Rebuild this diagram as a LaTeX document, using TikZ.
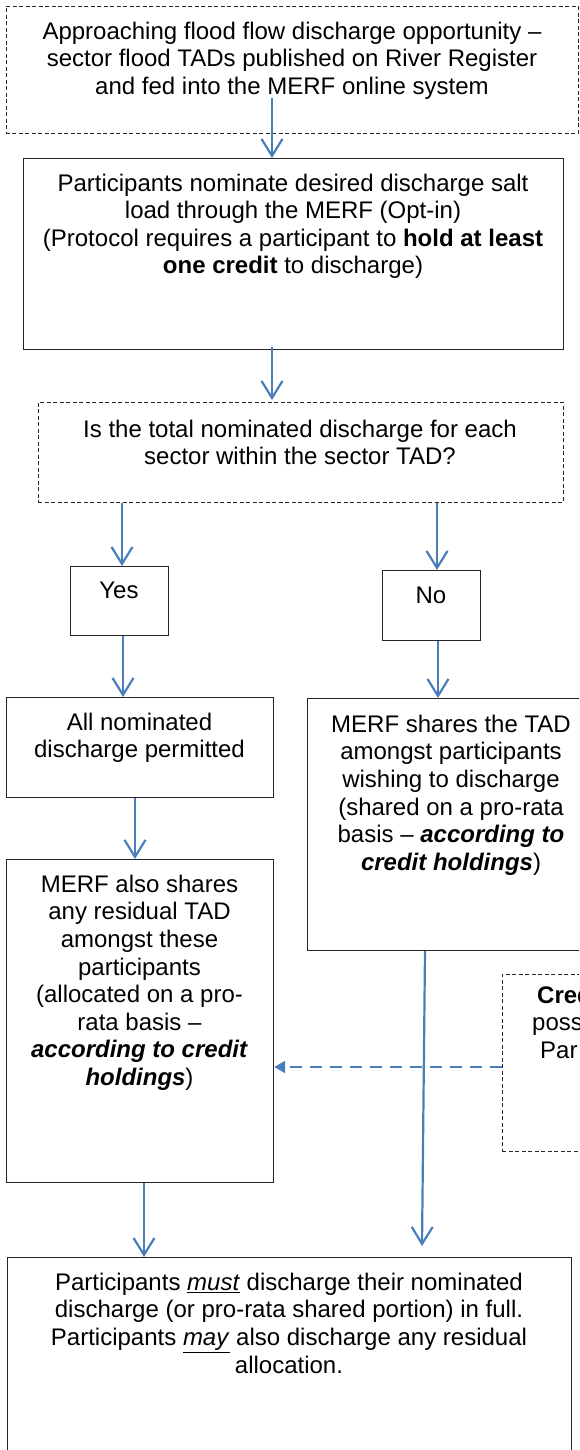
\documentclass[tikz,border=0pt]{standalone}
\usepackage{fontspec}
\setmainfont{Liberation Sans}
\usetikzlibrary{arrows.meta}
\definecolor{flowblue}{RGB}{74,126,187}
\begin{document}
\begin{tikzpicture}[x=1pt,y=-1pt,
  box/.style={draw=black!85, line width=1.2pt, rectangle, inner sep=0pt, anchor=north west},
  dbox/.style={draw=black!85, line width=0.9pt, dash pattern=on 4pt off 2.5pt, rectangle, inner sep=0pt, anchor=north west},
  txt/.style={anchor=north, inner sep=0pt, align=center, font=\fontsize{24}{27.6}\selectfont},
  sidetxt/.style={anchor=base west, inner sep=0pt, font=\fontsize{24}{27.6}\selectfont},
  arr/.style={draw=flowblue, line width=2.2pt, -{Straight Barb[length=17pt,width=21pt]}},
  darr/.style={draw=flowblue, line width=2.2pt, dash pattern=on 12pt off 8pt, -{Triangle[length=11pt,width=12pt]}},
]
\useasboundingbox (0,0) rectangle (579,1450);
\clip (0,0) rectangle (579,1450);

% boxes
\node[dbox, minimum width=572.5pt, minimum height=127pt] (b1) at (5.5,6) {};
\node[box, minimum width=540pt, minimum height=191pt] (b2) at (23,158) {};
\node[dbox, minimum width=525pt, minimum height=100pt] (b3) at (38,402) {};
\node[box, minimum width=98pt, minimum height=69pt] (yes) at (70,566) {};
\node[box, minimum width=98pt, minimum height=70pt] (no) at (382,570) {};
\node[box, minimum width=267pt, minimum height=100pt] (all) at (6,697) {};
\node[box, minimum width=293pt, minimum height=252pt] (shares) at (307,698) {};
\node[box, minimum width=267pt, minimum height=323pt] (also) at (6,859) {};
\node[dbox, minimum width=120pt, minimum height=177pt] (cred) at (502,974) {};
\node[box, minimum width=564pt, minimum height=220pt] (bot) at (7,1257) {};

% texts
\node[txt] (t1) at (292,19.7) {\strut Approaching flood flow discharge opportunity --\\ sector flood TADs published on River Register\\ and fed into the MERF online system};
\node[txt] (t2) at (293,171.5) {\strut Participants nominate desired discharge salt\\ load through the MERF (Opt-in)\\ (Protocol requires a participant to \textbf{hold at least}\\ \textbf{one credit} to discharge)};
\node[txt] (t3) at (300,417.7) {\strut Is the total nominated discharge for each\\ sector within the sector TAD?};
\node[txt] (tyes) at (119,578.7) {\strut Yes};
\node[txt] (tno) at (431,583.7) {\strut No};
\node[txt] (tall) at (139.5,710.7) {\strut All nominated\\ discharge permitted};
\node[txt] (tshares) at (451,712.7) {\strut MERF shares the TAD\\ amongst participants\\ wishing to discharge\\ (shared on a pro-rata\\ basis -- \textbf{\textit{according to}}\\ \textbf{\textit{credit holdings}})};
\node[txt] (talso) at (139.5,872.7) {\strut MERF also shares\\ any residual TAD\\ amongst these\\ participants\\ (allocated on a pro-\\ rata basis --\\ \textbf{\textit{according to credit}}\\ \textbf{\textit{holdings}})};
\node[txt] (tbot) at (289,1270.7) {\strut Participants \underline{\textit{must}} discharge their nominated\\ discharge (or pro-rata shared portion) in full.\\ Participants \underline{\textit{may}} also discharge any residual\\ allocation.};
\node[sidetxt] (tc1) at (537,1003) {\textbf{Cred}};
\node[sidetxt] (tc2) at (532,1030.6) {poss};
\node[sidetxt] (tc3) at (540,1058.2) {Par};

% connectors
\coordinate (a1s) at (272,98);
\draw[arr] (a1s) -- (a1s |- b2.north);
\coordinate (a2s) at (272,347);
\coordinate (a2e) at (272,400);
\draw[arr] (a2s) -- (a2e);
\coordinate (xl) at (122,0);
\coordinate (xr) at (437,0);
\draw[arr] (xl |- b3.south) -- (xl |- yes.north);
\draw[arr] (xr |- b3.south) -- (xr |- no.north);
\coordinate (xl2) at (123,0);
\coordinate (xr2) at (438,0);
\draw[arr] (xl2 |- yes.south) -- (xl2 |- all.north);
\draw[arr] (xr2 |- no.south) -- (xr2 |- shares.north);
\coordinate (x7) at (135,0);
\draw[arr] (x7 |- all.south) -- (x7 |- also.north);
\coordinate (x8) at (144,0);
\draw[arr] (x8 |- also.south) -- (x8 |- bot.north);
\coordinate (x9) at (425,0);
\coordinate (a9e) at (422,1246);
\draw[arr] (x9 |- shares.south) -- (a9e);
\coordinate (dy) at (0,1067);
\draw[darr] (cred.west |- dy) -- (also.east |- dy);
\end{tikzpicture}
\end{document}
